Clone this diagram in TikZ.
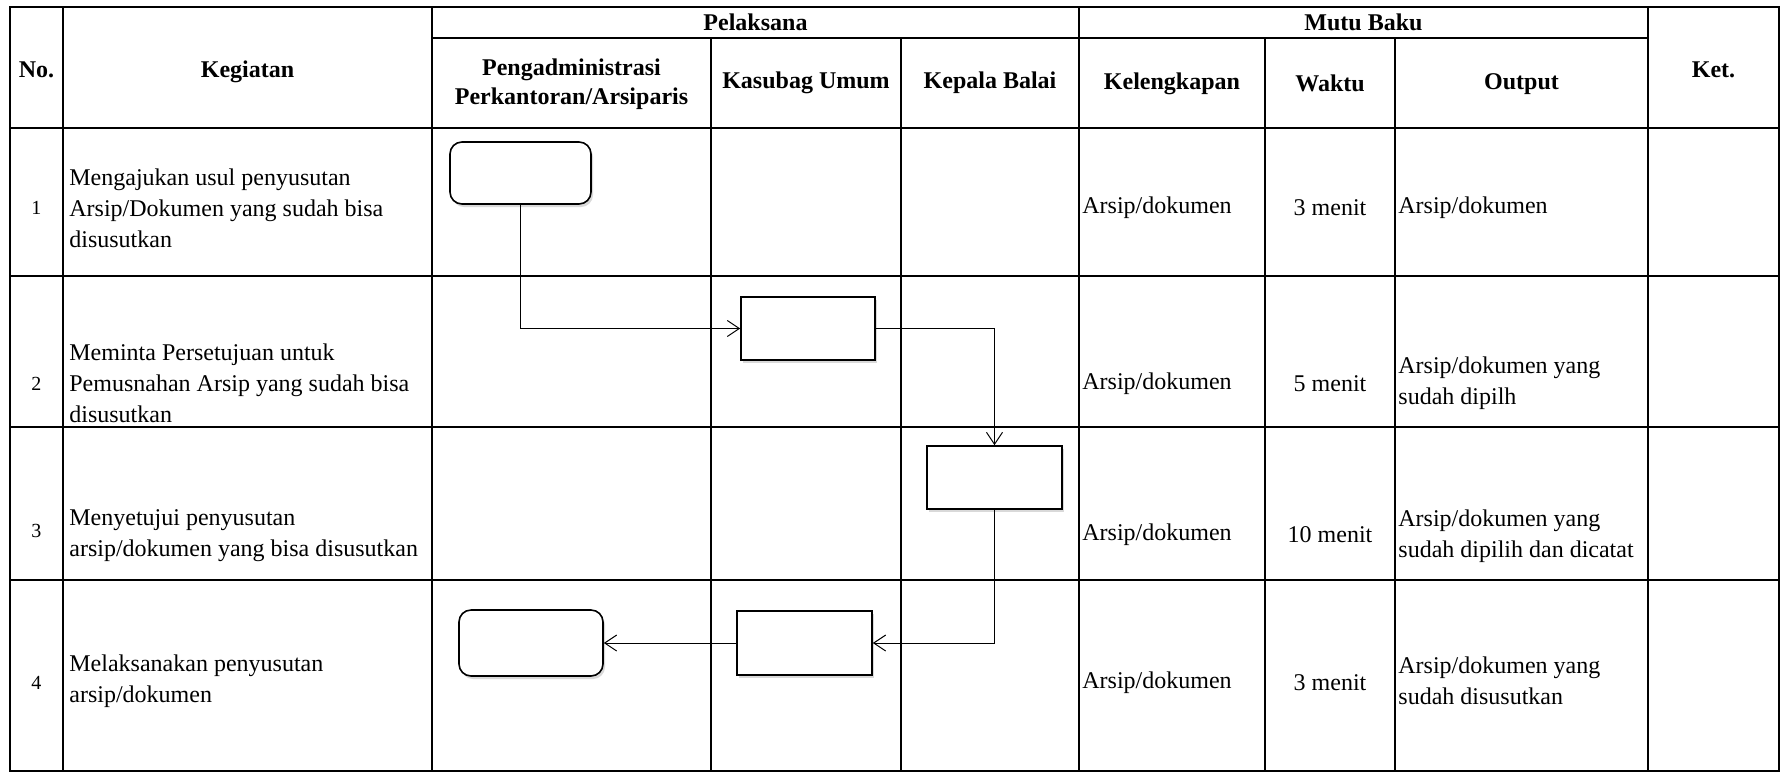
\documentclass[tikz,border=0pt]{standalone}
\usepackage{fontspec}
\setmainfont{Liberation Serif}
\usetikzlibrary{shapes,arrows.meta,positioning,shadows}

\begin{document}
\begin{tikzpicture}[
    x=0.5pt, y=-0.5pt,
    every node/.style={font=\fontsize{12}{15.5}\selectfont},
    grid/.style={line width=1.3pt},
    head/.style={font=\fontsize{12}{14.5}\selectfont\bfseries, align=center},
    cell/.style={anchor=west, align=left, inner sep=0pt},
    num/.style={font=\fontsize{10}{12}\selectfont},
    process/.style={rectangle, draw, fill=white, line width=0.8pt, drop shadow={opacity=0.3, shadow xshift=1pt, shadow yshift=-1.5pt}},
    terminal/.style={process, rounded corners=6pt},
    arrow/.style={-{Straight Barb[length=6pt,width=8pt]}, line width=0.5pt}
]
    \useasboundingbox (0,0) rectangle (1783,773);

    % tabel
    \draw[grid] (10,7) rectangle (1779,771);
    \draw[grid] (10,128) -- (1779,128);
    \draw[grid] (10,276) -- (1779,276);
    \draw[grid] (10,427) -- (1779,427);
    \draw[grid] (10,580) -- (1779,580);
    \draw[grid] (432,38) -- (1648,38);
    \draw[grid] (63,7) -- (63,771);
    \draw[grid] (432,7) -- (432,771);
    \draw[grid] (711,38) -- (711,771);
    \draw[grid] (901,38) -- (901,771);
    \draw[grid] (1079,7) -- (1079,771);
    \draw[grid] (1265,38) -- (1265,771);
    \draw[grid] (1395,38) -- (1395,771);
    \draw[grid] (1648,7) -- (1648,771);

    % judul kolom
    \node[head] (no) at (36.5,70) {No.};
    \node[head] (kegiatan) at (247.5,72) {Kegiatan};
    \node[head] (pelaksana) at (755.5,22) {Pelaksana};
    \node[head] (mutu) at (1363.5,22) {Mutu Baku};
    \node[head] (ket) at (1713.5,70) {Ket.};
    \node[head] (pengadm) at (571.5,84) {Pengadministrasi\\Perkantoran/Arsiparis};
    \node[head] (kasubag) at (806,83) {Kasubag Umum};
    \node[head] (kepala) at (990,83) {Kepala Balai};
    \node[head] (kelengkapan) at (1172,84) {Kelengkapan};
    \node[head] (waktu) at (1330,83) {Waktu};
    \node[head] (output) at (1521.5,84) {Output};

    % baris 1
    \node[num] (no1) at (36.5,208) {1};
    \node[cell] (keg1) at (69,208) {Mengajukan usul penyusutan\\Arsip/Dokumen yang sudah bisa\\disusutkan};
    \node[cell] (kel1) at (1082,208) {Arsip/dokumen};
    \node (wkt1) at (1330,208) {3 menit};
    \node[cell] (out1) at (1398,208) {Arsip/dokumen};

    % baris 2
    \node[num] (no2) at (36.5,384) {2};
    \node[cell] (keg2) at (69,383) {Meminta Persetujuan untuk\\Pemusnahan Arsip yang sudah bisa\\disusutkan};
    \node[cell] (kel2) at (1082,384) {Arsip/dokumen};
    \node (wkt2) at (1330,384) {5 menit};
    \node[cell] (out2) at (1398,383) {Arsip/dokumen yang\\sudah dipilh};

    % baris 3
    \node[num] (no3) at (36.5,531) {3};
    \node[cell] (keg3) at (69,536) {Menyetujui penyusutan\\arsip/dokumen yang bisa disusutkan};
    \node[cell] (kel3) at (1082,535) {Arsip/dokumen};
    \node (wkt3) at (1330,535) {10 menit};
    \node[cell] (out3) at (1398,536) {Arsip/dokumen yang\\sudah dipilih dan dicatat};

    % baris 4
    \node[num] (no4) at (36.5,683) {4};
    \node[cell] (keg4) at (69,681) {Melaksanakan penyusutan\\arsip/dokumen};
    \node[cell] (kel4) at (1082,683) {Arsip/dokumen};
    \node (wkt4) at (1330,683) {3 menit};
    \node[cell] (out4) at (1398,681) {Arsip/dokumen yang\\sudah disusutkan};

    % simbol alur
    \node[terminal, minimum width=70.5pt, minimum height=31pt] (mulai) at (520.5,173) {};
    \node[process, minimum width=67pt, minimum height=31.5pt] (minta) at (808,328.5) {};
    \node[process, minimum width=67.5pt, minimum height=31.5pt] (setuju) at (994.5,477.5) {};
    \node[process, minimum width=67.5pt, minimum height=32pt] (laksana) at (804.5,643) {};
    \node[terminal, minimum width=72pt, minimum height=33pt] (selesai) at (531,643) {};

    % panah alur
    \draw[arrow] (mulai.south) |- (minta.west);
    \draw[arrow] (minta.east) -| (setuju.north);
    \draw[arrow] (setuju.south) |- (laksana.east);
    \draw[arrow] (laksana.west) -- (selesai.east);
\end{tikzpicture}
\end{document}
